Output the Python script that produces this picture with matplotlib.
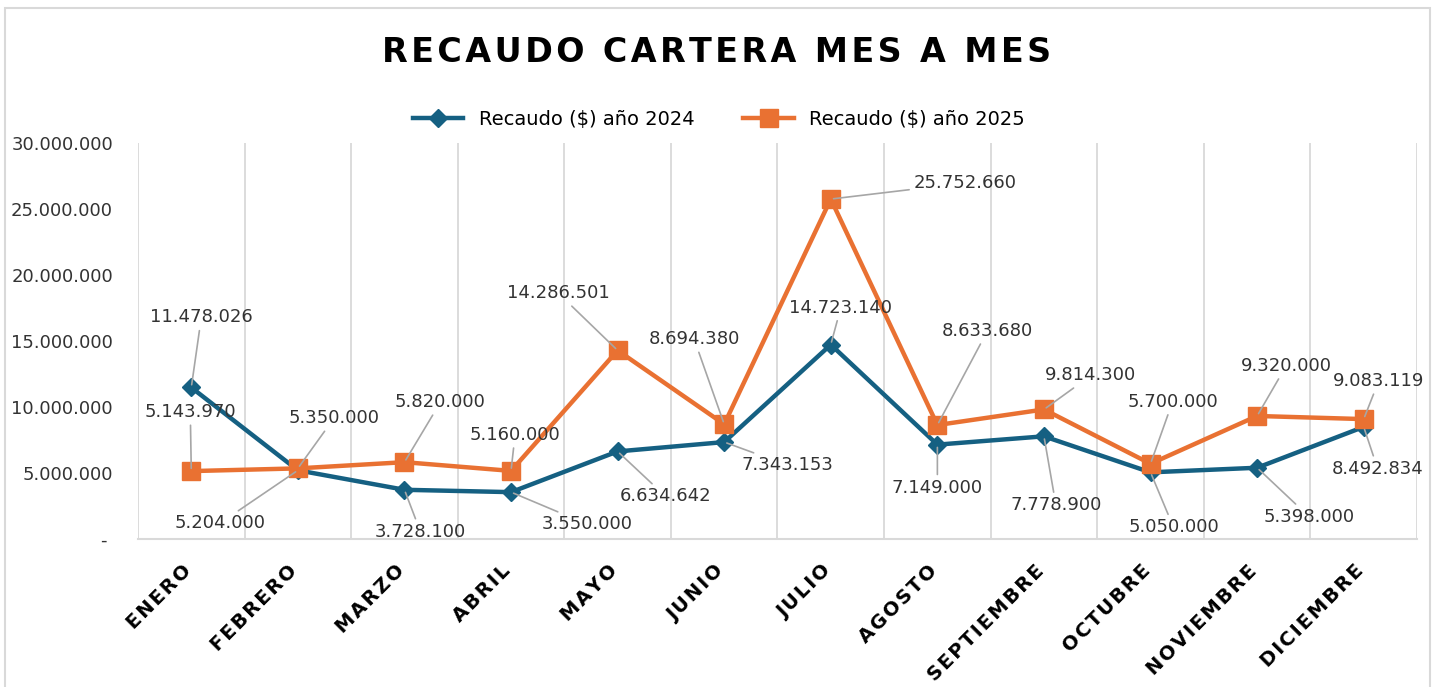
import numpy as np
import matplotlib
matplotlib.use("Agg")
import matplotlib.pyplot as plt
import matplotlib.transforms as mtransforms
from matplotlib.patches import Rectangle

meses = ["ENERO", "FEBRERO", "MARZO", "ABRIL", "MAYO", "JUNIO", "JULIO",
         "AGOSTO", "SEPTIEMBRE", "OCTUBRE", "NOVIEMBRE", "DICIEMBRE"]
recaudo_2024 = [11478026, 5204000, 3728100, 3550000, 6634642, 7343153,
                14723140, 7149000, 7778900, 5050000, 5398000, 8492834]
recaudo_2025 = [5143970, 5350000, 5820000, 5160000, 14286501, 8694380,
                25752660, 8633680, 9814300, 5700000, 9320000, 9083119]
y_ticks = [0, 5000000, 10000000, 15000000, 20000000, 25000000, 30000000]

# label offsets in pixels (dx, dy) from each point
off_2024 = [(10, 70), (-78, -53), (16, -42), (76, -32), (48, -45), (63, -23),
            (10, 37), (0, -43), (12, -69), (23, -55), (52, -49), (14, -42)]
off_2025 = [(-1, 59), (36, 50), (36, 60), (4, 36), (-59, 57), (-30, 85),
            (134, 16), (50, 94), (47, 34), (22, 62), (29, 50), (15, 38)]

azul = "#156082"
naranja = "#E97132"
gris = "#d9d9d9"


def fmt(v):
    if v == 0:
        return "- "
    return f"{v:,.0f}".replace(",", ".")


W, H = 1436, 687
fig = plt.figure(figsize=(W / 100, H / 100), dpi=100)
fig.patches.append(Rectangle((5 / W, -0.01), 1425 / W, 1 - 8 / H + 0.01,
                             transform=fig.transFigure, fill=False,
                             edgecolor=gris, lw=1.5))

ax = fig.add_axes([138 / W, 1 - 539 / H, (1417 - 138) / W, (539 - 143) / H])
x = np.arange(len(meses))

ax.plot(x, recaudo_2024, color=azul, lw=3.2, marker="D", ms=9,
        label="Recaudo ($) año 2024", zorder=3)
ax.plot(x, recaudo_2025, color=naranja, lw=3.2, marker="s", ms=13,
        label="Recaudo ($) año 2025", zorder=4)

ax.set_xlim(-0.5, len(meses) - 0.5)
ax.set_ylim(0, 30000000)

for serie, offs in ((recaudo_2024, off_2024), (recaudo_2025, off_2025)):
    for i, v in enumerate(serie):
        ax.annotate(fmt(v), (i, v), xytext=offs[i], textcoords="offset pixels",
                    ha="center", va="center", fontsize=13, color="#333333",
                    arrowprops=dict(arrowstyle="-", color="#a6a6a6", lw=1.2,
                                    shrinkA=1, shrinkB=2), zorder=5)

for b in np.arange(-0.5, len(meses), 1):
    ax.axvline(b, color=gris, lw=1.3, zorder=1)

for s in ["top", "right", "left"]:
    ax.spines[s].set_visible(False)
ax.spines["bottom"].set_color(gris)
ax.spines["bottom"].set_linewidth(1.5)

ax.set_yticks(y_ticks)
ax.set_yticklabels([fmt(v) for v in y_ticks], fontsize=13, color="#333333")
ax.tick_params(axis="y", length=0, pad=18)
ax.set_xticks(x)
ax.set_xticklabels(["\u200a".join(m) for m in meses], rotation=45, ha="right",
                   rotation_mode="anchor", fontsize=14, fontweight="bold")
ax.tick_params(axis="x", length=0, pad=16)
shift = mtransforms.ScaledTranslation(-10 / 100, 0, fig.dpi_scale_trans)
for lbl in ax.get_xticklabels():
    lbl.set_transform(lbl.get_transform() + shift)

fig.text(717 / W, 1 - 52 / H, "\u200a".join("RECAUDO CARTERA MES A MES"),
         ha="center", va="center", fontsize=24, fontweight="bold")

fig.legend(loc="center", bbox_to_anchor=(719 / W, 1 - 119 / H), ncol=2,
           frameon=False, fontsize=14, handlelength=2.6, columnspacing=2.5)

fig.savefig("out.png", dpi=100)
